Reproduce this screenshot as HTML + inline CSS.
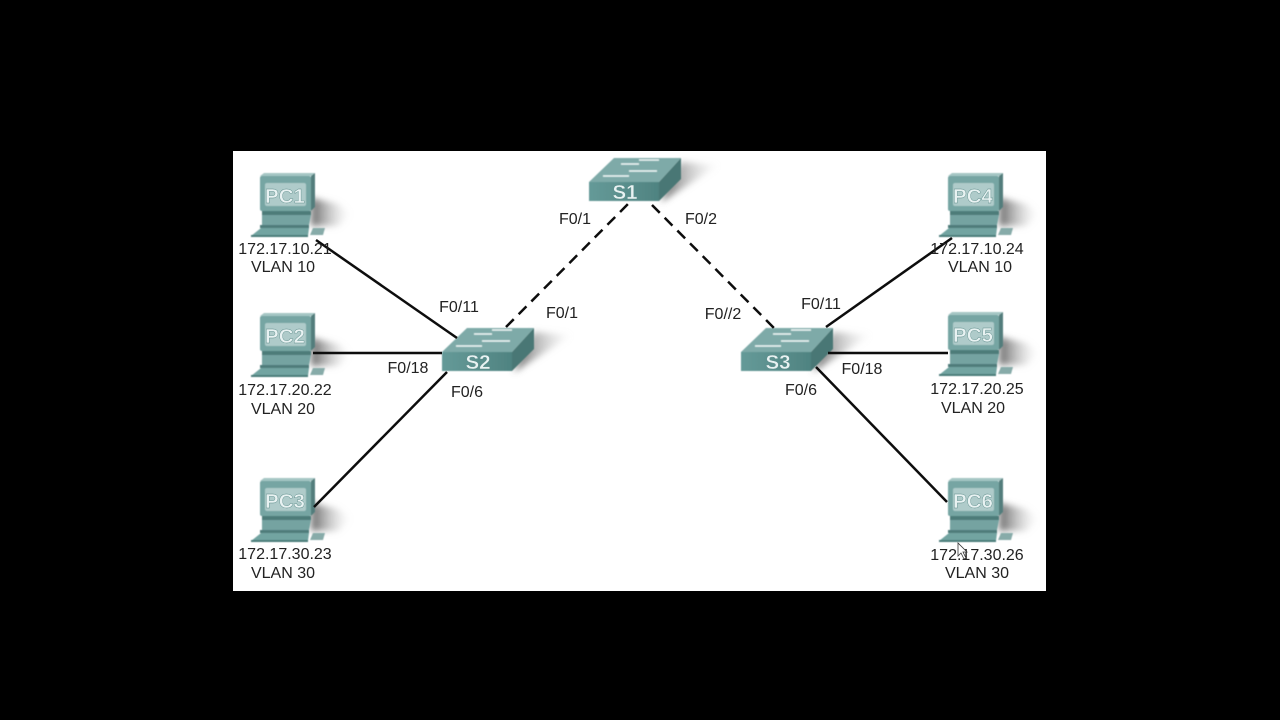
<!DOCTYPE html>
<html><head><meta charset="utf-8">
<style>
html,body{margin:0;padding:0;background:#000;width:1280px;height:720px;overflow:hidden}
svg{display:block}
text{font-family:"Liberation Sans",sans-serif}
.l{font-size:16px;fill:#222;text-anchor:middle}
.n{font-size:20.5px;font-weight:bold;fill:#e8f2f2;text-anchor:middle;stroke:#5d8c8a;stroke-width:0.4}
</style></head><body>
<svg width="1280" height="720" viewBox="0 0 1280 720" xmlns="http://www.w3.org/2000/svg">
<defs>
<filter id="b" x="-30%" y="-30%" width="160%" height="160%"><feGaussianBlur stdDeviation="3.5"/></filter>
<filter id="s" x="-10%" y="-10%" width="120%" height="120%"><feGaussianBlur stdDeviation="0.6"/></filter>
<filter id="t" x="-5%" y="-5%" width="110%" height="110%"><feGaussianBlur stdDeviation="0.3"/></filter>
<linearGradient id="sh" x1="0" y1="0" x2="1" y2="0"><stop offset="0" stop-color="#666"/><stop offset="1" stop-color="#ccc" stop-opacity="0"/></linearGradient>
<linearGradient id="f" x1="0" y1="0" x2="1" y2="0"><stop offset="0" stop-color="#659a98"/><stop offset="1" stop-color="#4f8381"/></linearGradient>
<g id="pc">
<polygon points="311,198 338,204 350,214 338,226 311,226" fill="url(#sh)" filter="url(#b)"/>
<g filter="url(#s)">
<polygon points="260,176 264,173 315,173 311,176" fill="#a5c6c4"/>
<polygon points="311,176 315,173 315,207 311,211" fill="#527d7b"/>
<rect x="260" y="176" width="51" height="35" rx="2" fill="#76a5a3"/>
<rect x="265" y="183" width="41" height="23" rx="2" fill="#afcbca"/>
<rect x="262" y="211" width="49" height="4" fill="#4d7b79"/>
<polygon points="262,215 311,215 309,225 262,225" fill="#74a3a1"/>
<polygon points="260,225 309,225 309,228 260,228" fill="#4f7c7a"/>
<polygon points="261,228 309,228 308,236 251,236" fill="#72a4a1"/>
<rect x="251" y="235" width="57" height="2" fill="#4a7b79"/>
<polygon points="313,228 325,228 323,235 310,235" fill="#87aba9"/>
</g>
</g>
<g id="sw">
<polygon points="534,332 572,335 514,372 522,352" fill="url(#sh)" filter="url(#b)"/>
<g filter="url(#s)">
<polygon points="467,328 534,328 512,352 442,352" fill="#7eaaa8"/>
<polygon points="512,352 534,328 534,349 512,371" fill="#4a7775"/>
<rect x="442" y="352" width="70" height="19" fill="url(#f)"/>
<g stroke="#eef6f5" stroke-width="1.6">
<line x1="474" y1="334" x2="492" y2="334"/><line x1="492" y1="330" x2="512" y2="330"/>
<line x1="482" y1="341" x2="510" y2="341"/><line x1="456" y1="346" x2="482" y2="346"/>
</g>
</g>
</g>
</defs>
<rect x="233" y="151" width="813" height="440" fill="#fff"/>
<use href="#pc"/>
<use href="#pc" y="140"/>
<use href="#pc" y="305"/>
<use href="#pc" x="688"/>
<use href="#pc" x="688" y="139"/>
<use href="#pc" x="688" y="305"/>
<use href="#sw"/>
<use href="#sw" x="147" y="-170"/>
<use href="#sw" x="299"/>
<g stroke="#0c0c0c" stroke-width="2.5" fill="none" filter="url(#t)">
<line x1="316" y1="240" x2="457" y2="338"/>
<line x1="313" y1="353" x2="442" y2="353"/>
<line x1="314" y1="507" x2="447" y2="372"/>
<line x1="826" y1="327" x2="952" y2="238"/>
<line x1="828" y1="353" x2="948" y2="353"/>
<line x1="816" y1="367" x2="947" y2="502"/>
<line x1="506" y1="327" x2="628" y2="204" stroke-dasharray="11 7"/>
<line x1="652" y1="205" x2="774" y2="328" stroke-dasharray="11 7"/>
</g>
<text class="n" x="285" y="203">PC1</text>
<text class="n" x="285" y="343">PC2</text>
<text class="n" x="285" y="508">PC3</text>
<text class="n" x="973" y="203">PC4</text>
<text class="n" x="973" y="342">PC5</text>
<text class="n" x="973" y="508">PC6</text>
<text class="n" x="478" y="369">S2</text>
<text class="n" x="625" y="199">S1</text>
<text class="n" x="778" y="369">S3</text>
<g filter="url(#t)">
<text class="l" x="285" y="254">172.17.10.21</text>
<text class="l" x="283" y="272">VLAN 10</text>
<text class="l" x="285" y="395">172.17.20.22</text>
<text class="l" x="283" y="414">VLAN 20</text>
<text class="l" x="285" y="559">172.17.30.23</text>
<text class="l" x="283" y="578">VLAN 30</text>
<text class="l" x="977" y="254">172.17.10.24</text>
<text class="l" x="980" y="272">VLAN 10</text>
<text class="l" x="977" y="394">172.17.20.25</text>
<text class="l" x="973" y="413">VLAN 20</text>
<text class="l" x="977" y="560">172.17.30.26</text>
<text class="l" x="977" y="578">VLAN 30</text>
<text class="l" x="575" y="224">F0/1</text>
<text class="l" x="701" y="224">F0/2</text>
<text class="l" x="459" y="312">F0/11</text>
<text class="l" x="562" y="318">F0/1</text>
<text class="l" x="408" y="373">F0/18</text>
<text class="l" x="467" y="397">F0/6</text>
<text class="l" x="723" y="319">F0//2</text>
<text class="l" x="821" y="309">F0/11</text>
<text class="l" x="862" y="374">F0/18</text>
<text class="l" x="801" y="395">F0/6</text>
</g>
<polygon points="958,543 958,556 961,553 964,559 966,558 963,552 967,552" fill="#fff" stroke="#333" stroke-width="0.8"/>
</svg>
</body></html>
